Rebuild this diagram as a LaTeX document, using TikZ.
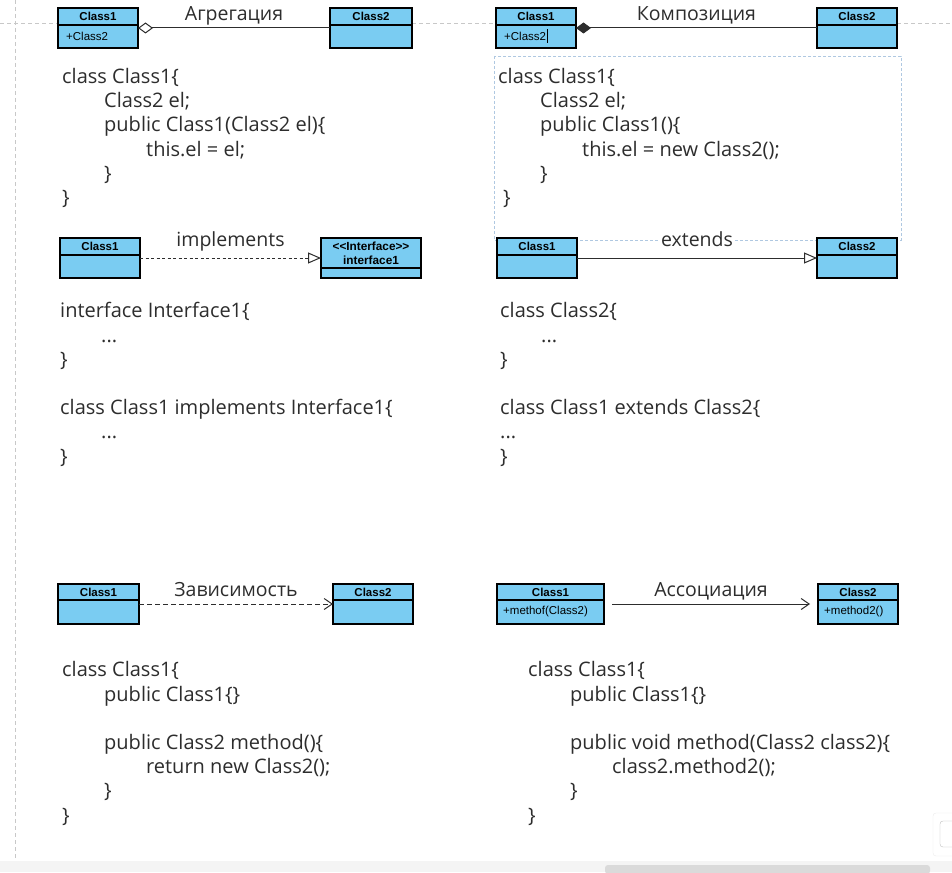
\documentclass[tikz,border=0pt]{standalone}
\usepackage{fontspec}
\setmainfont{Open Sans}
\newfontfamily\umlfamily{Liberation Sans}
\usetikzlibrary{positioning,calc,arrows.meta}

\definecolor{clsblue}{RGB}{122,204,242}
\definecolor{codegray}{RGB}{45,45,45}
\definecolor{pagegray}{RGB}{200,200,200}
\definecolor{selblue}{RGB}{175,200,225}
\definecolor{bargray}{RGB}{244,244,244}
\definecolor{thumbgray}{RGB}{218,218,218}

\newcommand\ind{\hspace*{42pt}}

\tikzset{
    clsbox/.style={draw=black, fill=clsblue, line width=1.3pt, anchor=north west,
        inner sep=0pt, outer sep=0pt, minimum width=80pt, minimum height=40pt},
    clshead/.style={draw=black, line width=1.3pt, anchor=north, inner sep=0pt,
        outer sep=0pt, minimum height=17pt,
        font={\umlfamily\bfseries\fontsize{11.5}{14}\selectfont}},
    clsattr/.style={anchor=west, inner sep=0pt,
        font={\umlfamily\fontsize{11.5}{14}\selectfont}},
    conn/.style={draw=codegray, line width=1pt},
    conlabel/.style={anchor=base, fill=white, inner sep=1pt, text=codegray,
        font={\fontsize{19.5}{22}\selectfont}},
    % code blocks are placed by the baseline of their last line
    code/.style={anchor=base west, align=left, inner sep=0pt, text=codegray,
        font={\fontsize{20}{24.2}\selectfont}}
}

\begin{document}
\begin{tikzpicture}[x=1pt,y=-1pt]
    \useasboundingbox[fill=white] (0,0) rectangle (952,872);

    % page break lines
    \draw[pagegray, dash pattern=on 4pt off 3pt, line width=0.7pt] (15,0) -- (15,861);
    \draw[pagegray, dash pattern=on 4pt off 3pt, line width=0.7pt] (0,23) -- (58,23);
    \draw[pagegray, dash pattern=on 4pt off 3pt, line width=0.7pt] (412,23) -- (496,23);
    \draw[pagegray, dash pattern=on 4pt off 3pt, line width=0.7pt] (897,23) -- (952,23);

    % selection frame
    \draw[selblue, dash pattern=on 3pt off 2pt, line width=0.8pt] (494,56) rectangle (901,240);

    % aggregation
    \node[clsbox] (agg1) at (58,8) {};
    \node[clshead, minimum width=80pt] (agg1h) at (agg1.north) {Class1};
    \node[clsattr] (agg1a) at ($(agg1h.south west)!0.5!(agg1.south west)+(8,0)$) {+Class2};
    \node[clsbox, minimum width=82pt] (agg2) at (330,8) {};
    \node[clshead, minimum width=82pt] (agg2h) at (agg2.north) {Class2};
    \draw[conn, {Diamond[open,length=15pt,width=11pt]}-] (agg1) --
        node[conlabel, yshift=7pt] (agglbl) {Агрегация} (agg2);
    \node[code] (aggcode) at (62,204.5) {class Class1\{\\
        \ind Class2 el;\\
        \ind public Class1(Class2 el)\{\\
        \ind\ind this.el = el;\\
        \ind \}\\
        \}};

    % composition
    \node[clsbox] (comp1) at (496,8) {};
    \node[clshead, minimum width=80pt] (comp1h) at (comp1.north) {Class1};
    \node[clsattr] (comp1a) at ($(comp1h.south west)!0.5!(comp1.south west)+(8,0)$) {+Class2};
    \draw[black, line width=0.6pt] (comp1a.east) ++(1,-7) -- ++(0,14);
    \node[clsbox] (comp2) at (817,8) {};
    \node[clshead, minimum width=80pt] (comp2h) at (comp2.north) {Class2};
    \draw[conn, {Diamond[length=15pt,width=11pt]}-] (comp1) --
        node[conlabel, yshift=7pt] (complbl) {Композиция} (comp2);
    \node[code] (compcode) at (498,204.5) {class Class1\{\\
        \ind Class2 el;\\
        \ind public Class1()\{\\
        \ind\ind this.el = new Class2();\\
        \ind \}\\
        \hspace*{5pt}\}};

    % implements
    \node[clsbox] (impl1) at (60,238) {};
    \node[clshead, minimum width=80pt] (impl1h) at (impl1.north) {Class1};
    \node[clsbox, minimum width=100pt] (impl2) at (321,238) {};
    \node[clshead, minimum width=100pt, minimum height=30pt, align=center,
        font={\umlfamily\bfseries\fontsize{11.8}{14}\selectfont}] (impl2h) at (impl2.north)
        {{<}{<}Interface{>}{>}\\interface1};
    \draw[conn, dash pattern=on 3pt off 2.5pt, -{Triangle[open,length=13pt,width=11pt]}] (impl1) --
        node[conlabel, yshift=11.5pt] (impllbl) {implements} (impl2);
    \node[code] (implcode) at (60,463) {interface Interface1\{\\
        \hspace*{41pt}...\\
        \}\\[24.2pt]
        class Class1 implements Interface1\{\\
        \hspace*{41pt}...\\
        \}};

    % extends
    \node[clsbox] (ext1) at (497,238) {};
    \node[clshead, minimum width=80pt] (ext1h) at (ext1.north) {Class1};
    \node[clsbox] (ext2) at (817,238) {};
    \node[clshead, minimum width=80pt] (ext2h) at (ext2.north) {Class2};
    \draw[conn, -{Triangle[open,length=13pt,width=11pt]}] (ext1) --
        node[conlabel, yshift=12pt] (extlbl) {extends} (ext2);
    \node[code] (extcode) at (500,463) {class Class2\{\\
        \hspace*{41pt}...\\
        \}\\[24.2pt]
        class Class1 extends Class2\{\\
        ...\\
        \}};

    % dependency
    \node[clsbox, minimum width=81pt] (dep1) at (58,584) {};
    \node[clshead, minimum width=81pt, minimum height=16pt] (dep1h) at (dep1.north) {Class1};
    \node[clsbox] (dep2) at (333,584) {};
    \node[clshead, minimum width=80pt, minimum height=16pt] (dep2h) at (dep2.north) {Class2};
    \draw[conn, dash pattern=on 5pt off 3pt, -{Straight Barb[length=8pt,width=11pt]}] (dep1) --
        node[conlabel, yshift=8pt] (deplbl) {Зависимость} (dep2);
    \node[code] (depcode) at (62,822) {class Class1\{\\
        \ind public Class1\{\}\\[24.2pt]
        \ind public Class2 method()\{\\
        \ind\ind return new Class2();\\
        \ind \}\\
        \}};

    % association
    \node[clsbox, minimum width=107pt] (assoc1) at (497,584) {};
    \node[clshead, minimum width=107pt, minimum height=16pt] (assoc1h) at (assoc1.north) {Class1};
    \node[clsattr] (assoc1a) at ($(assoc1h.south west)!0.5!(assoc1.south west)+(6,0)$) {+methof(Class2)};
    \node[clsbox] (assoc2) at (818,584) {};
    \node[clshead, minimum width=80pt, minimum height=16pt] (assoc2h) at (assoc2.north) {Class2};
    \node[clsattr] (assoc2a) at ($(assoc2h.south west)!0.5!(assoc2.south west)+(6,0)$) {+method2()};
    \draw[conn, shorten <=8pt, shorten >=8pt, -{Straight Barb[length=8pt,width=11pt]}] (assoc1) --
        node[conlabel, yshift=8pt] (assoclbl) {Ассоциация} (assoc2);
    \node[code] (assoccode) at (528,822) {class Class1\{\\
        \ind public Class1\{\}\\[24.2pt]
        \ind public void method(Class2 class2)\{\\
        \ind\ind class2.method2();\\
        \ind \}\\
        \}};

    % window chrome
    \fill[bargray] (0,861) rectangle (952,872);
    \fill[thumbgray, rounded corners=3pt] (605,865) rectangle (930,874);
    \draw[gray!15, fill=white, rounded corners=3pt] (933,813) rectangle (960,856);
    \draw[gray!50, rounded corners=3pt] (940,821) rectangle (960,847);
\end{tikzpicture}
\end{document}
